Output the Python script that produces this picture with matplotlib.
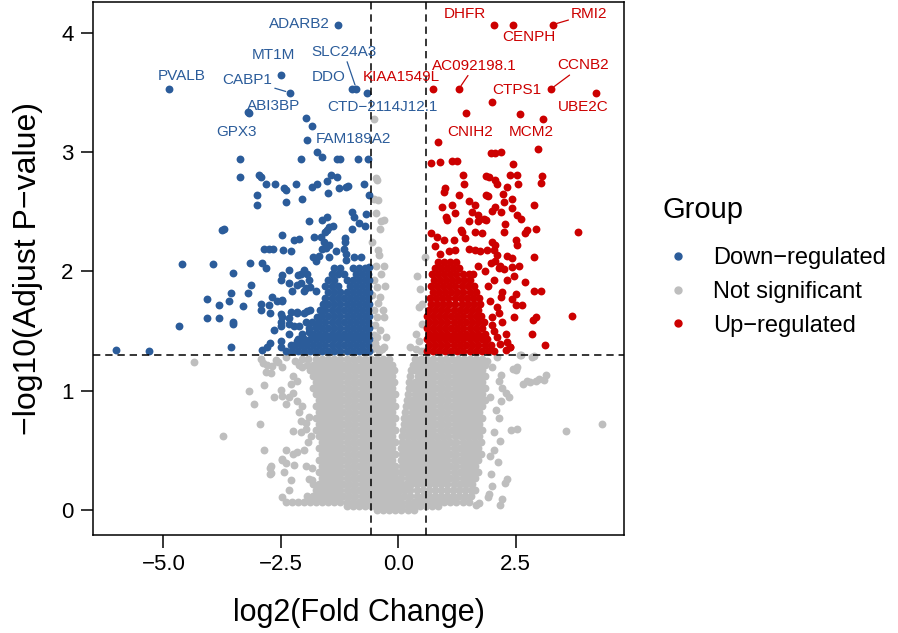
import matplotlib
matplotlib.use("Agg")
import matplotlib.pyplot as plt
from matplotlib.lines import Line2D

plt.rcParams["font.family"] = ["Liberation Sans", "DejaVu Sans"]

# cut-offs: |log2FC| > log2(1.5), adj.P < 0.05
fc_cut = 0.585
p_cut = 1.301

x_ticks = [-5.0, -2.5, 0.0, 2.5]
x_tick_labels = ["\u22125.0", "\u22122.5", "0.0", "2.5"]
y_ticks = [0, 1, 2, 3, 4]

groups = ["Down\u2212regulated", "Not significant", "Up\u2212regulated"]
group_colors = ["#2B5C9A", "#BEBEBE", "#CC0000"]

# labelled genes (log2FC, -log10 adj.P)
genes = ["ADARB2", "MT1M", "CABP1", "PVALB", "ABI3BP", "GPX3", "SLC24A3", "DDO",
         "CTD\u22122114J12.1", "FAM189A2",
         "KIAA1549L", "AC092198.1", "DHFR", "CENPH", "RMI2", "CCNB2", "CTPS1",
         "UBE2C", "MCM2", "CNIH2"]
gene_x = [-1.28, -2.50, -2.31, -4.88, -3.17, -3.19, -0.89, -0.98, -0.66, -1.94,
          0.74, 1.29, 2.04, 2.45, 3.29, 3.25, 1.99, 4.22, 3.09, 1.44]
gene_y = [4.07, 3.65, 3.50, 3.53, 3.33, 3.34, 3.53, 3.53, 3.50, 3.10,
          3.53, 3.53, 4.07, 4.07, 4.07, 3.53, 3.42, 3.50, 3.28, 3.33]
gene_group = [0] * 10 + [2] * 10

# down-regulated, scattered points
down_pts = [
    (-3.36, 2.94), (-2.08, 2.94), (-1.74, 3.00), (-1.62, 2.96), (-1.30, 2.94), (-1.25, 2.94),
    (-0.85, 2.94), (-0.65, 2.94), (-1.96, 3.29), (-1.84, 3.22),
    (-3.36, 2.79), (-2.97, 2.81), (-2.93, 2.79), (-2.81, 2.73), (-2.63, 2.73), (-2.43, 2.70),
    (-2.38, 2.68), (-2.18, 2.73), (-1.84, 2.71), (-1.72, 2.73), (-1.51, 2.76), (-1.43, 2.81),
    (-1.30, 2.79), (-1.26, 2.70), (-1.12, 2.71), (-1.06, 2.72), (-1.50, 2.66), (-0.72, 2.73),
    (-3.00, 2.64), (-3.00, 2.56), (-2.38, 2.58), (-2.04, 2.61), (-0.62, 2.64),
    (-1.90, 2.42), (-1.62, 2.43), (-1.51, 2.46), (-1.38, 2.38), (-0.98, 2.50), (-0.94, 2.46),
    (-0.68, 2.48), (-0.84, 2.41), (-0.70, 2.38), (-0.98, 2.36),
    (-3.75, 2.35), (-3.71, 2.36), (-2.48, 2.31), (-2.22, 2.26), (-2.11, 2.27), (-1.80, 2.29),
    (-1.65, 2.29), (-1.55, 2.33), (-1.51, 2.35), (-1.48, 2.37), (-1.58, 2.25), (-1.48, 2.22),
    (-1.53, 2.20), (-1.14, 2.28), (-1.13, 2.25), (-2.86, 2.19), (-2.75, 2.19), (-2.67, 2.19),
    (-2.45, 2.18), (-2.29, 2.17), (-1.62, 2.19), (-1.33, 2.17), (-1.16, 2.19), (-1.12, 2.15),
    (-1.82, 2.12), (-1.69, 2.13), (-1.76, 2.09), (-1.48, 2.12), (-0.94, 2.12), (-0.80, 2.12),
    (-1.11, 2.10), (-4.60, 2.06), (-3.95, 2.06), (-3.16, 2.07), (-2.90, 2.07), (-2.82, 2.03),
    (-0.62, 2.04), (-3.51, 1.99), (-2.48, 1.97), (-2.33, 2.01), (-2.13, 1.97), (-2.01, 2.01),
    (-1.94, 1.98), (-2.50, 1.93), (-3.14, 1.89), (-2.33, 1.90), (-2.15, 1.89), (-1.97, 1.86),
    (-2.08, 1.98), (-1.90, 1.93), (-2.08, 1.90), (-2.01, 1.84), (-1.87, 1.87), (-1.76, 1.84),
    (-4.07, 1.77), (-3.57, 1.82), (-3.20, 1.82), (-3.82, 1.72), (-3.61, 1.75), (-3.31, 1.71),
    (-2.93, 1.73), (-2.75, 1.72), (-2.68, 1.79), (-2.58, 1.75), (-2.47, 1.75), (-2.26, 1.84),
    (-2.47, 1.76), (-2.29, 1.66), (-2.15, 1.66), (-2.01, 1.65), (-1.87, 1.68),
    (-4.07, 1.61), (-3.82, 1.61), (-3.52, 1.58), (-3.51, 1.56), (-4.67, 1.54),
    (-2.93, 1.68), (-2.72, 1.65), (-2.50, 1.64), (-2.50, 1.58), (-2.33, 1.61), (-2.15, 1.65),
    (-1.94, 1.67), (-1.72, 1.62), (-2.47, 1.62), (-2.50, 1.54), (-2.65, 1.51), (-2.33, 1.56),
    (-2.22, 1.54), (-1.97, 1.58), (-1.90, 1.49), (-1.76, 1.54),
    (-2.72, 1.40), (-2.50, 1.42), (-2.90, 1.34), (-2.79, 1.37), (-2.50, 1.37), (-2.33, 1.48),
    (-2.11, 1.54), (-2.29, 1.38), (-2.15, 1.42), (-2.01, 1.40),
    (-3.57, 1.37), (-6.02, 1.34), (-5.31, 1.33),
]

# down-regulated, dense block (y, x values)
down_rows = [
    (1.33, [-2.40, -2.27, -2.14, -2.01, -1.88, -1.75, -1.62, -1.49, -1.36, -1.23, -1.10, -0.97, -0.84, -0.72, -0.63]),
    (1.38, [-2.20, -2.07, -1.94, -1.81, -1.68, -1.55, -1.42, -1.29, -1.16, -1.03, -0.90, -0.77, -0.65]),
    (1.43, [-2.14, -2.01, -1.88, -1.75, -1.62, -1.49, -1.36, -1.23, -1.10, -0.97, -0.84, -0.71, -0.62]),
    (1.48, [-2.05, -1.81, -1.68, -1.55, -1.42, -1.29, -1.16, -1.03, -0.90, -0.77, -0.65]),
    (1.53, [-1.90, -1.75, -1.62, -1.49, -1.36, -1.23, -1.10, -0.97, -0.84, -0.71, -0.62]),
    (1.58, [-1.83, -1.68, -1.55, -1.42, -1.29, -1.16, -1.03, -0.90, -0.77, -0.65]),
    (1.63, [-1.62, -1.49, -1.36, -1.23, -1.10, -0.97, -0.84, -0.71, -0.62]),
    (1.68, [-1.66, -1.55, -1.42, -1.29, -1.16, -1.03, -0.90, -0.77, -0.65]),
    (1.73, [-1.60, -1.49, -1.36, -1.23, -1.10, -0.97, -0.84, -0.71, -0.62]),
    (1.78, [-1.55, -1.42, -1.29, -1.16, -1.03, -0.90, -0.77, -0.65]),
    (1.83, [-1.49, -1.36, -1.23, -1.10, -0.97, -0.84, -0.71, -0.62]),
    (1.88, [-1.55, -1.42, -1.29, -1.03, -0.90, -0.77, -0.65]),
    (1.93, [-1.49, -1.36, -1.10, -0.97, -0.84, -0.71, -0.62]),
    (1.98, [-1.42, -1.29, -1.16, -0.90, -0.77, -0.65]),
    (2.03, [-1.36, -1.23, -0.97, -0.84, -0.71]),
]

# up-regulated, scattered points
up_pts = [
    (2.59, 3.32), (0.85, 3.09), (2.98, 3.03), (1.97, 2.99), (2.07, 2.99), (2.19, 3.00),
    (0.69, 2.91), (0.89, 2.92), (1.14, 2.93), (1.26, 2.93), (2.44, 2.90),
    (1.38, 2.81), (1.41, 2.73), (1.86, 2.80), (1.93, 2.79), (2.07, 2.77), (2.11, 2.73),
    (2.39, 2.81), (2.53, 2.81), (3.07, 2.80), (2.55, 2.73), (3.05, 2.74),
    (0.99, 2.70), (0.97, 2.67), (1.30, 2.64), (1.86, 2.64), (1.91, 2.63), (2.24, 2.65),
    (2.31, 2.71), (1.50, 2.59), (1.64, 2.56), (2.25, 2.58), (2.43, 2.61), (2.89, 2.56),
    (1.15, 2.56), (0.93, 2.54), (1.22, 2.49), (1.01, 2.46), (1.05, 2.43), (1.57, 2.50),
    (1.71, 2.47), (1.82, 2.44), (2.07, 2.54), (1.99, 2.51), (2.18, 2.50), (2.43, 2.53),
    (2.53, 2.47), (2.62, 2.44), (1.50, 2.42), (1.71, 2.42), (1.86, 2.43), (2.28, 2.40),
    (0.69, 2.32), (0.83, 2.29), (0.97, 2.26), (1.33, 2.35), (1.36, 2.33), (1.64, 2.33),
    (1.79, 2.32), (2.25, 2.33), (2.70, 2.32), (2.75, 2.35), (2.93, 2.36), (3.83, 2.33),
    (1.19, 2.26), (1.43, 2.28), (2.00, 2.25), (2.07, 2.22), (2.50, 2.26), (2.53, 2.22),
    (2.89, 2.12), (0.79, 2.21), (0.90, 2.15), (1.08, 2.17), (1.22, 2.18), (1.50, 2.19),
    (1.64, 2.18), (1.75, 2.17), (1.89, 2.18), (2.03, 2.18), (2.10, 2.14), (2.32, 2.13),
    (2.43, 2.11), (2.57, 2.05), (2.17, 2.05), (2.25, 2.02), (2.43, 2.04), (2.07, 2.09),
    (1.97, 2.07), (2.14, 2.03), (1.85, 2.00), (1.70, 2.05), (1.60, 1.98), (1.92, 1.88),
    (2.05, 1.93), (2.32, 1.93), (2.46, 1.96), (2.71, 1.91), (2.89, 1.84), (3.04, 1.84),
    (2.50, 1.81), (2.64, 1.72), (2.50, 1.72), (2.43, 1.77), (2.22, 1.83), (2.18, 1.79),
    (1.95, 1.75), (2.00, 1.62), (2.11, 1.70), (2.14, 1.65), (2.46, 1.62), (2.93, 1.62),
    (2.88, 1.59), (3.70, 1.63), (2.22, 1.58), (2.00, 1.55), (2.29, 1.48), (2.32, 1.41),
    (2.86, 1.48), (2.03, 1.50), (2.10, 1.45), (2.39, 1.37), (2.29, 1.34), (3.12, 1.38),
    (2.16, 1.39), (2.38, 1.37),
]

# up-regulated, dense block (y, x values)
up_rows = [
    (1.33, [0.62, 0.74, 0.87, 1.00, 1.13, 1.26, 1.39, 1.52, 1.65, 1.78, 1.91, 2.05]),
    (1.38, [0.66, 0.79, 0.92, 1.05, 1.18, 1.31, 1.44, 1.57, 1.70, 1.84, 1.97]),
    (1.43, [0.62, 0.74, 0.87, 1.00, 1.13, 1.26, 1.39, 1.52, 1.65, 1.78, 1.90]),
    (1.48, [0.66, 0.79, 0.92, 1.05, 1.18, 1.31, 1.44, 1.57, 1.70, 1.84]),
    (1.53, [0.62, 0.74, 0.87, 1.00, 1.13, 1.26, 1.39, 1.52, 1.65, 1.78]),
    (1.58, [0.66, 0.79, 0.92, 1.05, 1.18, 1.31, 1.44, 1.57, 1.70, 1.82]),
    (1.63, [0.62, 0.74, 0.87, 1.00, 1.13, 1.26, 1.39, 1.52, 1.65, 1.76]),
    (1.68, [0.66, 0.79, 0.92, 1.05, 1.18, 1.31, 1.44, 1.57, 1.70]),
    (1.73, [0.70, 0.83, 0.96, 1.09, 1.22, 1.35, 1.48, 1.61, 1.74]),
    (1.78, [0.68, 0.81, 0.94, 1.07, 1.20, 1.33, 1.46, 1.59, 1.72]),
    (1.83, [0.74, 0.87, 1.00, 1.13, 1.26, 1.39, 1.52, 1.65]),
    (1.88, [0.70, 0.83, 0.96, 1.09, 1.22, 1.35, 1.48, 1.61]),
    (1.93, [0.76, 0.89, 1.02, 1.15, 1.28, 1.41, 1.54]),
    (1.98, [0.72, 0.85, 0.98, 1.11, 1.24, 1.37, 1.50]),
    (2.03, [0.78, 0.91, 1.04, 1.17, 1.30]),
    (2.08, [0.84, 0.97, 1.10, 1.23]),
]

# not significant, scattered points
ns_pts = [
    (-0.52, 3.28), (-0.48, 2.78), (-0.45, 2.77), (-0.51, 2.61), (-0.42, 2.60), (-0.48, 2.49),
    (-0.30, 2.43), (-0.37, 2.42), (-0.38, 2.36), (-0.44, 2.18), (-0.41, 2.14), (-0.48, 2.05),
    (-0.30, 2.05), (-0.52, 1.93), (-0.45, 1.87), (-0.38, 1.79), (-0.52, 1.68), (-0.30, 1.62),
    (-0.38, 1.51), (-0.45, 1.45), (-0.30, 1.37), (-0.50, 1.55), (-0.42, 1.74), (-0.36, 1.98),
    (-0.50, 1.40), (-0.40, 1.33), (-0.25, 1.45), (-0.33, 1.68), (-0.46, 1.62), (-0.29, 1.88),
    (-0.55, 1.35), (-0.45, 1.36), (-0.35, 1.35), (-0.52, 1.47), (-0.55, 1.80), (-0.55, 2.25),
    (0.58, 2.12), (0.40, 1.96), (0.47, 1.85), (0.44, 1.70), (0.51, 1.73), (0.37, 1.48),
    (0.51, 1.56), (0.26, 1.37), (0.48, 1.33), (0.55, 1.33), (0.45, 1.42), (0.38, 1.35),
    (-4.34, 1.24), (-3.74, 0.62), (-3.17, 1.00), (-3.08, 0.89), (-2.95, 0.72), (-2.86, 0.50),
    (-2.73, 0.35), (-2.73, 0.30), (-2.48, 0.42), (-2.43, 0.32), (-2.48, 0.11),
    (-2.86, 1.05), (-2.89, 1.23), (-2.82, 1.16), (-2.71, 1.15), (-2.68, 1.21), (-2.47, 1.20),
    (-2.25, 1.12), (-2.29, 1.06), (-2.15, 1.08), (-2.61, 1.26), (-2.50, 1.01), (-2.47, 0.96),
    (-2.33, 0.95), (-2.40, 0.89), (-2.64, 0.95), (-2.25, 0.98), (-2.15, 0.91), (-2.04, 0.87),
    (-2.11, 0.82), (-2.08, 0.75), (-1.97, 0.73), (-1.90, 0.78), (-2.25, 0.66), (-2.08, 0.65),
    (-1.97, 0.68), (-1.86, 0.62), (-1.93, 0.57), (-2.40, 0.50), (-2.25, 0.47), (-2.15, 0.49),
    (-2.01, 0.50), (-2.47, 0.43), (-2.40, 0.39), (-2.22, 0.38), (-1.97, 0.37), (-1.83, 0.35),
    (-2.71, 0.37), (-2.71, 0.31), (-1.90, 0.26), (-1.83, 0.25), (-2.29, 0.25), (-2.33, 0.17),
    (-2.92, 1.27), (-2.80, 1.22), (-2.55, 1.24), (-2.40, 1.28), (-2.20, 1.25), (-2.05, 1.20),
    (2.61, 1.30), (2.89, 1.29), (2.54, 1.20), (2.50, 1.17), (2.18, 1.13), (2.15, 1.08),
    (2.75, 1.08), (2.93, 1.08), (3.14, 1.13), (3.11, 1.09), (2.22, 1.02), (2.29, 0.98),
    (2.36, 0.95), (2.18, 0.91), (2.08, 0.84), (2.15, 0.77), (2.54, 0.68), (3.57, 0.66),
    (4.34, 0.72), (2.41, 0.67), (2.32, 0.26), (1.94, 0.13), (2.22, 0.09), (1.72, 0.06),
    (2.16, 0.58), (2.27, 0.23), (2.16, 0.04), (1.91, 0.11), (1.65, 0.04), (2.45, 1.18),
    (2.65, 1.06), (2.81, 1.07), (2.99, 1.10), (2.59, 1.30), (2.84, 1.28), (2.05, 0.50),
    (2.12, 0.40), (1.98, 0.30), (2.05, 0.65), (1.95, 0.95), (2.00, 1.20), (1.90, 1.25),
    (2.10, 1.28), (1.95, 0.45), (2.00, 0.20),
]

# not significant, dense block (y, x values)
ns_rows = [
    (1.27, [-2.05, -1.92, -1.75, -1.62, -1.49, -1.36, -1.23, -1.10, -0.97, -0.84, -0.71, -0.58, -0.45, -0.32, -0.19,
            0.36, 0.49, 0.62, 0.75, 0.88, 1.01, 1.14, 1.27, 1.40, 1.53, 1.66, 1.79]),
    (1.22, [-2.12, -1.95, -1.82, -1.69, -1.56, -1.43, -1.30, -1.17, -1.04, -0.91, -0.78, -0.65, -0.52, -0.39, -0.26, -0.13,
            0.31, 0.42, 0.55, 0.68, 0.81, 0.94, 1.07, 1.20, 1.33, 1.46, 1.59, 1.72, 1.85]),
    (1.17, [-1.88, -1.75, -1.62, -1.49, -1.36, -1.23, -1.10, -0.97, -0.84, -0.71, -0.58, -0.45, -0.32, -0.19, -0.09,
            0.28, 0.36, 0.49, 0.62, 0.75, 0.88, 1.01, 1.14, 1.27, 1.40, 1.53, 1.66, 1.79]),
    (1.12, [-1.82, -1.69, -1.56, -1.43, -1.30, -1.17, -1.04, -0.91, -0.78, -0.65, -0.52, -0.39, -0.26, -0.13,
            0.26, 0.42, 0.55, 0.68, 0.81, 0.94, 1.07, 1.20, 1.33, 1.46, 1.59, 1.72, 1.85]),
    (1.07, [-1.75, -1.62, -1.49, -1.36, -1.23, -1.10, -0.97, -0.84, -0.71, -0.58, -0.45, -0.32, -0.19, -0.08,
            0.24, 0.36, 0.49, 0.62, 0.75, 0.88, 1.01, 1.14, 1.27, 1.40, 1.53, 1.66, 1.79]),
    (1.02, [-1.82, -1.69, -1.56, -1.43, -1.30, -1.17, -1.04, -0.91, -0.78, -0.65, -0.52, -0.39, -0.26, -0.13,
            0.22, 0.32, 0.42, 0.55, 0.68, 0.81, 0.94, 1.07, 1.20, 1.33, 1.46, 1.59, 1.72, 1.85]),
    (0.97, [-1.75, -1.62, -1.49, -1.36, -1.23, -1.10, -0.97, -0.84, -0.71, -0.58, -0.45, -0.32, -0.19, -0.07,
            0.20, 0.36, 0.49, 0.62, 0.75, 0.88, 1.01, 1.14, 1.27, 1.40, 1.53, 1.66, 1.79]),
    (0.92, [-1.69, -1.56, -1.43, -1.30, -1.17, -1.04, -0.91, -0.78, -0.65, -0.52, -0.39, -0.26, -0.13,
            0.18, 0.29, 0.42, 0.55, 0.68, 0.81, 0.94, 1.07, 1.20, 1.33, 1.46, 1.59, 1.72, 1.85]),
    (0.87, [-1.75, -1.62, -1.49, -1.36, -1.23, -1.10, -0.97, -0.84, -0.71, -0.58, -0.45, -0.32, -0.19, -0.07,
            0.17, 0.28, 0.36, 0.49, 0.62, 0.75, 0.88, 1.01, 1.14, 1.27, 1.40, 1.53, 1.66, 1.79]),
    (0.82, [-1.69, -1.56, -1.43, -1.30, -1.17, -1.04, -0.91, -0.78, -0.65, -0.52, -0.39, -0.26, -0.13,
            0.15, 0.29, 0.42, 0.55, 0.68, 0.81, 0.94, 1.07, 1.20, 1.33, 1.46, 1.59, 1.72]),
    (0.77, [-1.75, -1.62, -1.49, -1.36, -1.23, -1.10, -0.97, -0.84, -0.71, -0.58, -0.45, -0.32, -0.19, -0.07,
            0.13, 0.23, 0.36, 0.49, 0.62, 0.75, 0.88, 1.01, 1.14, 1.27, 1.40, 1.53, 1.66, 1.79]),
    (0.72, [-1.69, -1.56, -1.43, -1.30, -1.17, -1.04, -0.91, -0.78, -0.65, -0.52, -0.39, -0.26, -0.13,
            0.12, 0.21, 0.29, 0.42, 0.55, 0.68, 0.81, 0.94, 1.07, 1.20, 1.33, 1.46, 1.59, 1.72]),
    (0.67, [-1.75, -1.62, -1.49, -1.36, -1.23, -1.10, -0.97, -0.84, -0.71, -0.58, -0.45, -0.32, -0.19, -0.06,
            0.10, 0.23, 0.36, 0.49, 0.62, 0.75, 0.88, 1.01, 1.14, 1.27, 1.40, 1.53, 1.66, 1.79]),
    (0.62, [-1.69, -1.56, -1.43, -1.30, -1.17, -1.04, -0.91, -0.78, -0.65, -0.52, -0.39, -0.26, -0.13,
            0.09, 0.19, 0.29, 0.42, 0.55, 0.68, 0.81, 0.94, 1.07, 1.20, 1.33, 1.46, 1.59, 1.72]),
    (0.57, [-1.62, -1.49, -1.36, -1.23, -1.10, -0.97, -0.84, -0.71, -0.58, -0.45, -0.32, -0.19, -0.06,
            0.08, 0.20, 0.33, 0.46, 0.59, 0.72, 0.85, 0.98, 1.11, 1.24, 1.37, 1.50, 1.63, 1.76]),
    (0.52, [-1.69, -1.56, -1.43, -1.30, -1.17, -1.04, -0.91, -0.78, -0.65, -0.52, -0.39, -0.26, -0.13,
            0.07, 0.14, 0.27, 0.40, 0.53, 0.66, 0.79, 0.92, 1.05, 1.18, 1.31, 1.44, 1.57, 1.70]),
    (0.47, [-1.62, -1.49, -1.36, -1.23, -1.10, -0.97, -0.84, -0.71, -0.58, -0.45, -0.32, -0.19, -0.06,
            0.08, 0.20, 0.33, 0.46, 0.59, 0.72, 0.85, 0.98, 1.11, 1.24, 1.37, 1.50, 1.63, 1.76]),
    (0.42, [-1.69, -1.56, -1.43, -1.30, -1.17, -1.04, -0.91, -0.78, -0.65, -0.52, -0.39, -0.26, -0.13,
            0.06, 0.14, 0.27, 0.40, 0.53, 0.66, 0.79, 0.92, 1.05, 1.18, 1.31, 1.44, 1.57, 1.70]),
    (0.37, [-1.62, -1.49, -1.36, -1.23, -1.10, -0.97, -0.84, -0.71, -0.58, -0.45, -0.32, -0.19, -0.06,
            0.08, 0.20, 0.33, 0.46, 0.59, 0.72, 0.85, 0.98, 1.11, 1.24, 1.37, 1.50, 1.63]),
    (0.32, [-1.69, -1.56, -1.43, -1.30, -1.17, -1.04, -0.91, -0.78, -0.65, -0.52, -0.39, -0.26, -0.13, -0.04,
            0.06, 0.14, 0.27, 0.40, 0.53, 0.66, 0.79, 0.92, 1.05, 1.18, 1.31, 1.44, 1.57, 1.70]),
    (0.27, [-1.62, -1.49, -1.36, -1.23, -1.10, -0.97, -0.84, -0.71, -0.58, -0.45, -0.32, -0.19, -0.06,
            0.05, 0.20, 0.33, 0.46, 0.59, 0.72, 0.85, 0.98, 1.11, 1.24, 1.37, 1.50, 1.63]),
    (0.22, [-1.82, -1.69, -1.56, -1.43, -1.30, -1.17, -1.04, -0.91, -0.78, -0.65, -0.52, -0.39, -0.26, -0.13, -0.03,
            0.07, 0.17, 0.27, 0.40, 0.53, 0.66, 0.79, 0.92, 1.05, 1.18, 1.31, 1.44, 1.57]),
    (0.17, [-1.75, -1.62, -1.49, -1.36, -1.23, -1.10, -0.97, -0.84, -0.71, -0.58, -0.45, -0.32, -0.19, -0.07,
            0.04, 0.15, 0.26, 0.39, 0.52, 0.65, 0.78, 0.91, 1.04, 1.17, 1.30, 1.43, 1.56, 1.63]),
    (0.12, [-1.95, -1.82, -1.69, -1.56, -1.43, -1.30, -1.17, -1.04, -0.91, -0.78, -0.65, -0.52, -0.39, -0.26, -0.13,
            0.00, 0.13, 0.26, 0.39, 0.52, 0.65, 0.78, 0.91, 1.04, 1.17, 1.30, 1.43, 1.56]),
    (0.07, [-2.40, -2.27, -2.14, -2.01, -1.88, -1.75, -1.62, -1.49, -1.36, -1.23, -1.10, -0.97, -0.84, -0.71, -0.58,
            -0.45, -0.32, -0.19, -0.06, 0.07, 0.20, 0.33, 0.46, 0.59, 0.72, 0.85, 0.98, 1.11, 1.24, 1.37, 1.50]),
    (0.03, [-1.10, -0.97, -0.84, -0.71, -0.58, -0.45, -0.32, -0.19, -0.06, 0.07, 0.20, 0.33, 0.46, 0.59, 0.72, 0.85]),
    (0.00, [-0.45, -0.32, -0.19, -0.06, 0.07, 0.20, 0.33]),
]

# where ggrepel put each label, offset from its point in points
label_offset = {
    "ADARB2": (-27.7, 0.4), "MT1M": (-5.0, 14.4), "CABP1": (-30.7, 9.1),
    "PVALB": (9.2, 9.2), "ABI3BP": (17.4, 5.0), "GPX3": (-8.3, -14.6),
    "SLC24A3": (-9.1, 26.7), "DDO": (-17.0, 8.4), "CTD\u22122114J12.1": (11.2, -10.1),
    "FAM189A2": (33.4, 0.7), "KIAA1549L": (-22.7, 8.6), "AC092198.1": (11.4, 16.8),
    "DHFR": (-20.6, 7.8), "CENPH": (11.3, -9.2), "RMI2": (26.5, 7.8),
    "CCNB2": (23.0, 17.1), "CTPS1": (18.4, 8.6), "UBE2C": (-9.4, -10.1),
    "MCM2": (-8.9, -9.4), "CNIH2": (3.2, -13.4),
}
with_segment = {"CABP1", "SLC24A3", "AC092198.1", "RMI2", "CCNB2"}


def unpack(pts, rows):
    xs = [p[0] for p in pts] + [x for y, row in rows for x in row]
    ys = [p[1] for p in pts] + [y for y, row in rows for x in row]
    return xs, ys


fig = plt.figure(figsize=(8.98, 6.33), dpi=100)
ax = fig.add_axes([0.1036, 0.1548, 0.5913, 0.8420])

series = [unpack(down_pts, down_rows), unpack(ns_pts, ns_rows), unpack(up_pts, up_rows)]
for gi in (1, 0, 2):
    xs, ys = series[gi]
    xs = xs + [gx for gx, gg in zip(gene_x, gene_group) if gg == gi]
    ys = ys + [gy for gy, gg in zip(gene_y, gene_group) if gg == gi]
    ax.scatter(xs, ys, s=32, color=group_colors[gi], linewidths=0, zorder=2)

dash = (0, (4.8, 3.2))
ax.axvline(-fc_cut, color="black", lw=1.1, linestyle=dash, zorder=3)
ax.axvline(fc_cut, color="black", lw=1.1, linestyle=dash, zorder=3)
ax.axhline(p_cut, color="black", lw=1.1, linestyle=dash, zorder=3)

for name, gx, gy, gg in zip(genes, gene_x, gene_y, gene_group):
    c = group_colors[gg]
    arrow = None
    if name in with_segment:
        arrow = dict(arrowstyle="-", color=c, lw=0.9, shrinkA=0, shrinkB=3)
    ax.annotate(name, xy=(gx, gy), xytext=label_offset[name], textcoords="offset points",
                ha="center", va="center", fontsize=11, color=c, arrowprops=arrow, zorder=4)

ax.set_xlim(-6.50, 4.81)
ax.set_ylim(-0.21, 4.26)
ax.set_xticks(x_ticks)
ax.set_xticklabels(x_tick_labels)
ax.set_yticks(y_ticks)
ax.tick_params(length=9, width=1.1, labelsize=16, pad=5, color="black")
for sp in ax.spines.values():
    sp.set_linewidth(1.1)

ax.set_xlabel("log2(Fold Change)", fontsize=22)
ax.set_ylabel("\u2212log10(Adjust P\u2212value)", fontsize=23)
ax.xaxis.set_label_coords(0.5, -0.1463)
ax.xaxis.label.set_va("center")
ax.yaxis.set_label_coords(-0.1224, 0.5)
ax.yaxis.label.set_va("center")

handles = [Line2D([], [], linestyle="", marker="o", markersize=5, color=c) for c in group_colors]
fig.text(663 / 898, 1 - 210 / 633, "Group", fontsize=21, ha="left", va="center")
fig.legend(handles, groups, loc="upper left", bbox_to_anchor=(663 / 898, 1 - 247 / 633),
           bbox_transform=fig.transFigure, frameon=False, fontsize=17,
           handlelength=1.27, handletextpad=0.85, labelspacing=0.5, borderpad=0, borderaxespad=0)

fig.savefig("out.png", dpi=100, facecolor="white")
